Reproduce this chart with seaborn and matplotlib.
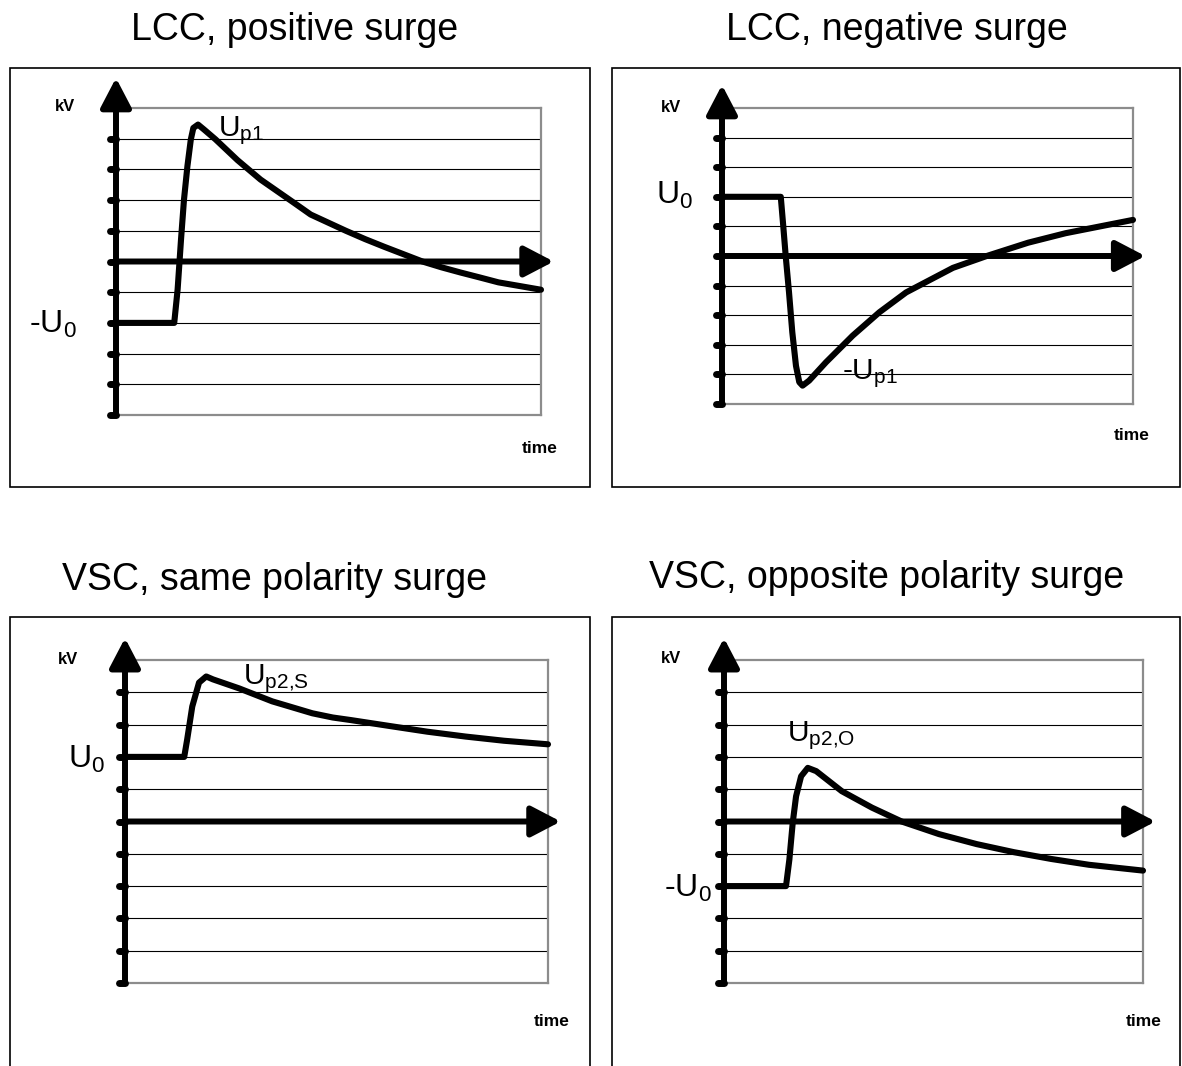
import matplotlib
matplotlib.use("Agg")
import matplotlib.pyplot as plt
from matplotlib.patches import Rectangle
import seaborn as sns

# ---------------------------------------------------
# Surge waveform sketches
# ---------------------------------------------------

TITLES = ["LCC, positive surge", "LCC, negative surge",
          "VSC, same polarity surge", "VSC, opposite polarity surge"]

# LCC, positive surge
LCC_POS_T = [0, 1.37, 1.45, 1.53, 1.60, 1.68, 1.76, 1.82, 1.93, 2.07, 2.34,
             2.86, 3.40, 4.19, 4.58, 5.41, 5.86, 6.31, 6.76, 7.21, 7.66,
             8.11, 8.56, 9.00, 9.46, 10.0]
LCC_POS_V = [-2.0, -2.0, -0.91, 0.72, 2.02, 3.10, 3.97, 4.35, 4.46, 4.30, 3.98,
             3.30, 2.67, 1.91, 1.53, 1.00, 0.73, 0.48, 0.24, 0.0, -0.19,
             -0.36, -0.52, -0.68, -0.79, -0.92]

# LCC, negative surge
LCC_NEG_T = [0, 1.43, 1.49, 1.55, 1.63, 1.71, 1.80, 1.88, 1.96, 2.12, 2.53,
             3.18, 3.83, 4.48, 5.62, 6.44, 7.45, 8.36, 9.27, 10.0]
LCC_NEG_V = [2.0, 2.0, 1.02, 0.0, -1.22, -2.57, -3.71, -4.26, -4.38, -4.21, -3.59,
             -2.69, -1.90, -1.23, -0.40, 0.0, 0.45, 0.77, 1.02, 1.22]

# VSC, same polarity surge
VSC_SAME_T = [0, 1.40, 1.47, 1.59, 1.75, 1.92, 2.08, 2.70, 3.48, 4.43, 4.91,
              5.34, 6.24, 7.15, 8.05, 8.96, 10.0]
VSC_SAME_V = [2.0, 2.0, 2.54, 3.56, 4.30, 4.49, 4.40, 4.12, 3.72, 3.35, 3.22,
              3.14, 2.96, 2.78, 2.63, 2.50, 2.39]

# VSC, opposite polarity surge
VSC_OPP_T = [0, 1.48, 1.56, 1.64, 1.72, 1.84, 2.00, 2.20, 2.81, 3.53, 4.24,
             5.13, 6.03, 6.92, 7.81, 8.71, 10.0]
VSC_OPP_V = [-2.0, -2.0, -1.18, -0.04, 0.78, 1.40, 1.66, 1.56, 0.94, 0.43, 0.0,
             -0.39, -0.70, -0.95, -1.16, -1.34, -1.52]

# labels
LEVEL_LABELS = ["-$U_0$", "$U_0$", "$U_0$", "-$U_0$"]
PEAK_LABELS = ["$U_{p1}$", "-$U_{p1}$", "$U_{p2{,}S}$", "$U_{p2{,}O}$"]
TICKS = [list(range(-5, 5)), list(range(-5, 5)), list(range(-5, 5)), list(range(-5, 6))]

W, H = 1182, 1066

sns.set_style("white")
plt.rcParams["font.family"] = ["Liberation Sans", "DejaVu Sans"]
plt.rcParams["mathtext.default"] = "regular"
plt.rcParams["text.color"] = "black"

fig = plt.figure(figsize=(W / 100, H / 100), dpi=100)


def fig_rect(x0, y0, x1, y1):
    # pixel box (top-left origin) -> figure fraction
    return [x0 / W, 1 - y1 / H, (x1 - x0) / W, (y1 - y0) / H]


# outer frames
frames = [(10, 68, 590, 487), (612, 68, 1180, 487),
          (10, 617, 590, 1100), (612, 617, 1180, 1100)]
for x0, y0, x1, y1 in frames:
    r = fig_rect(x0, y0, x1, y1)
    fig.add_artist(Rectangle((r[0], r[1]), r[2], r[3], transform=fig.transFigure,
                             fill=False, ec="black", lw=1.2))

# plot areas and label placement
areas = [(116, 108, 541, 415), (722, 108, 1133, 404),
         (125, 660, 548, 983), (724, 660, 1143, 983)]
title_pos = [(295, 30), (897, 30), (275, 580), (887, 578)]
y_tips = [5.98, 5.78, 5.68, 5.68]
kv_pos = [(-1.43, 4.89), (-1.48, 4.86), (-1.58, 4.89), (-1.5, 4.92)]
lvl_pos = [(-0.92, -2.31), (-0.71, 1.76), (-0.47, 1.67), (-0.29, -2.32)]
peak_pos = [(2.4, 4.07), (2.92, -4.16), (2.79, 4.24), (1.5, 2.48)]
time_pos = [(10.38, -6.1), (10.4, -6.08), (10.5, -6.2), (10.45, -6.2)]

series = [(LCC_POS_T, LCC_POS_V), (LCC_NEG_T, LCC_NEG_V),
          (VSC_SAME_T, VSC_SAME_V), (VSC_OPP_T, VSC_OPP_V)]

for i in range(4):
    ax = fig.add_axes(fig_rect(*areas[i]))
    ax.set_xlim(0, 10)
    ax.set_ylim(-5, 5)
    ax.set_xticks([])
    ax.set_yticks([])
    for s in ax.spines.values():
        s.set_color("#8c8c8c")
        s.set_linewidth(1.6)

    # grid
    ax.hlines(list(range(-4, 5)), 0, 10, color="black", lw=0.8, zorder=1)

    # curve
    t, v = series[i]
    sns.lineplot(x=t, y=v, ax=ax, sort=False, estimator=None,
                 color="black", lw=4.4, zorder=5)
    ln = ax.lines[-1]
    ln.set_solid_joinstyle("round")
    ln.set_solid_capstyle("round")
    ln.set_clip_on(False)

    # axis arrows
    head = "-|>,head_length=0.9,head_width=0.47"
    ax.annotate("", xy=(0, y_tips[i]), xytext=(0, -5),
                arrowprops=dict(arrowstyle=head, lw=4.3, color="black",
                                mutation_scale=20, shrinkA=0, shrinkB=0),
                annotation_clip=False, zorder=6)
    ax.annotate("", xy=(10.3, 0), xytext=(0, 0),
                arrowprops=dict(arrowstyle=head, lw=4.3, color="black",
                                mutation_scale=20, shrinkA=0, shrinkB=0),
                annotation_clip=False, zorder=6)

    # tick stubs
    stubs = ax.hlines(TICKS[i], -0.15, 0, color="black", lw=5, zorder=6)
    stubs.set_capstyle("round")
    stubs.set_clip_on(False)

    # texts
    ax.text(*kv_pos[i], "kV", fontsize=12, fontweight="bold",
            ha="left", va="baseline")
    ax.text(*lvl_pos[i], LEVEL_LABELS[i], fontsize=23,
            ha="right", va="baseline")
    ax.text(*peak_pos[i], PEAK_LABELS[i], fontsize=21.5,
            ha="left", va="baseline", zorder=7)
    ax.text(*time_pos[i], "time", fontsize=12.5, fontweight="bold",
            ha="right", va="center")

    tx, ty = title_pos[i]
    fig.text(tx / W, 1 - ty / H, TITLES[i], fontsize=27, ha="center", va="center")

fig.savefig("out.png", dpi=100)
